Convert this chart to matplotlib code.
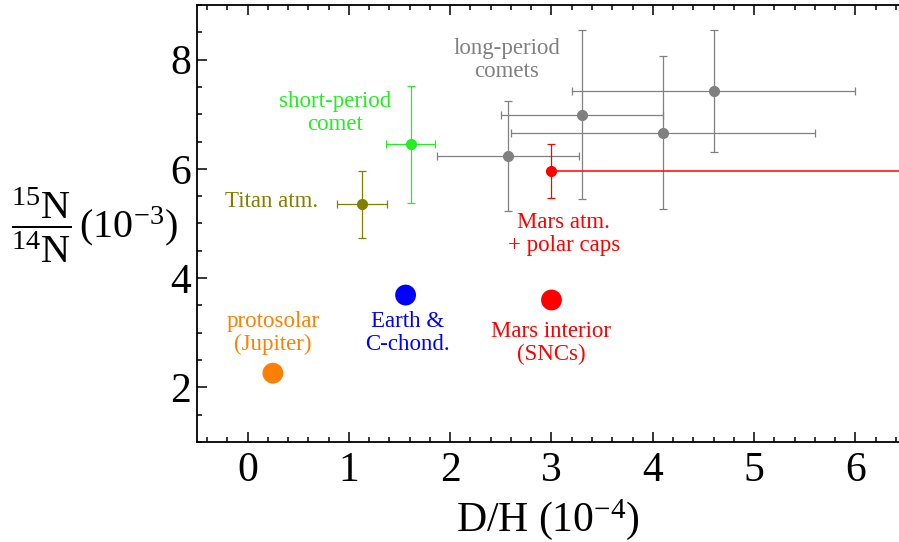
import matplotlib
matplotlib.use("Agg")
import numpy as np
from matplotlib import pyplot as plt
from matplotlib.ticker import MultipleLocator

plt.rcParams["font.family"] = ["Liberation Serif", "DejaVu Serif"]
plt.rcParams["mathtext.fontset"] = "custom"
plt.rcParams["mathtext.rm"] = "Liberation Serif"
plt.rcParams["mathtext.it"] = "Liberation Serif:italic"

# big markers without error bars
big_names = ["protosolar", "earth", "mars_interior"]
big_dh = [0.25, 1.56, 3.0]
big_n = [2.26, 3.69, 3.60]
big_colors = ["#ff8000", "#0000ff", "#ff0000"]

# long-period comets (gray)
lp_dh = [2.57, 3.30, 4.10, 4.60]
lp_n = [6.24, 6.99, 6.66, 7.42]
lp_dh_err = [0.70, 0.80, 1.50, 1.40]
lp_n_err = [1.01, 1.55, 1.40, 1.12]

# single points with error bars
titan = dict(dh=1.13, n=5.35, dh_err=0.25, n_err=0.61)
short_comet = dict(dh=1.61, n=6.45, dh_err=0.24, n_err=1.07)
mars_atm = dict(dh=3.0, n=5.96, n_err=0.5)  # D/H is a lower limit

labels = [
    ("long-period\ncomets", 2.56, 8.0, "#808080"),
    ("short-period\ncomet", 0.86, 7.02, "#22ee22"),
    ("Titan atm.", 0.70, 5.40, "#808000"),
    ("Mars atm.\n+ polar caps", 3.12, 4.80, "#ff0000"),
    ("protosolar\n(Jupiter)", 0.25, 3.0, "#ff8000"),
    ("Earth &\nC-chond.", 1.58, 2.99, "#0000ff"),
    ("Mars interior\n(SNCs)", 3.0, 2.81, "#ff0000"),
]

fig = plt.figure(figsize=(8.99, 5.42), dpi=100)
ax = fig.add_axes([0.219, 0.1845, 0.781, 0.8063])

eb_kw = dict(fmt="o", ms=7, elinewidth=0.9, capsize=3, capthick=0.9)
ax.errorbar(lp_dh, lp_n, xerr=lp_dh_err, yerr=lp_n_err, color="#808080", **eb_kw)
ax.errorbar([titan["dh"]], [titan["n"]], xerr=titan["dh_err"], yerr=titan["n_err"],
            color="#808000", **eb_kw)
ax.errorbar([short_comet["dh"]], [short_comet["n"]], xerr=short_comet["dh_err"],
            yerr=short_comet["n_err"], color="#22ee22", **eb_kw)
ax.errorbar([mars_atm["dh"]], [mars_atm["n"]], yerr=mars_atm["n_err"],
            color="#ff0000", **eb_kw)
# lower limit on D/H: line running off the right edge
ax.plot([mars_atm["dh"], 20], [mars_atm["n"], mars_atm["n"]], color="#ff0000", lw=1.1)

ax.scatter(big_dh, big_n, s=15 ** 2, c=big_colors, zorder=3, linewidths=0)

for text, x, y, col in labels:
    ha = "right" if text == "Titan atm." else "center"
    ax.text(x, y, text, color=col, fontsize=16.5, ha=ha, va="center",
            linespacing=1.12)

ax.set_xlim(-0.5, 6.43)
ax.set_ylim(1.0, 9.0)
ax.xaxis.set_major_locator(MultipleLocator(1))
ax.xaxis.set_minor_locator(MultipleLocator(0.2))
ax.yaxis.set_major_locator(MultipleLocator(2))
ax.yaxis.set_minor_locator(MultipleLocator(0.5))
ax.tick_params(which="both", direction="in", top=True, right=False, width=1.1)
ax.tick_params(which="major", length=7, labelsize=30)
ax.tick_params(which="minor", length=3.5)
ax.tick_params(axis="x", pad=7)
ax.tick_params(axis="y", pad=4)
for side in ["left", "bottom", "top"]:
    ax.spines[side].set_linewidth(1.3)
ax.spines["right"].set_visible(False)

ax.set_xlabel(r"D/H (10$^{-4}$)", fontsize=30, labelpad=5)
fig.text(0.105, 1 - 225 / 542,
         r"$\dfrac{^{15}\mathrm{N}}{^{14}\mathrm{N}}\,(10^{-3})$",
         fontsize=29, ha="center", va="center")

fig.savefig("out.png", dpi=100)
